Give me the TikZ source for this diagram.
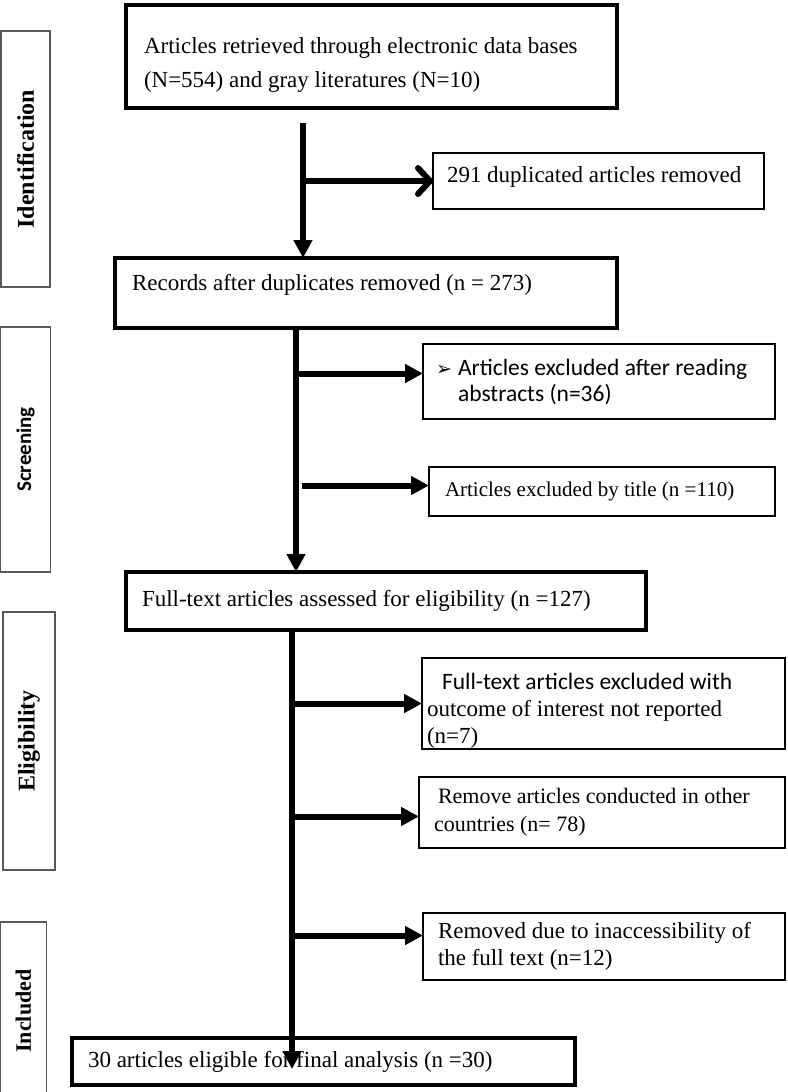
\documentclass[tikz,border=0pt]{standalone}
\usepackage{fontspec}
\setmainfont{Liberation Serif}
\newfontfamily\calib{Carlito}
\newfontfamily\dingfont{DejaVu Sans}
\usetikzlibrary{arrows.meta}

% text block of a box: width, height, left pad, text
\newcommand{\boxtext}[4]{\parbox[c][#2][c]{#1}{\raggedright\leftskip=#3\relax #4}}

\tikzset{
  mainbox/.style={draw, line width=3.5pt, inner sep=0pt, outer sep=0pt, anchor=north west, font=\fontsize{23}{28}\selectfont},
  sidebox/.style={mainbox, line width=1.8pt},
  stage/.style={draw=black!65, line width=1.2pt, inner sep=0pt, outer sep=0pt, rotate=90, font=\fontsize{24}{24}\selectfont\bfseries},
  flow/.style={line width=6pt, -{Triangle[length=18pt,width=18pt]}},
  openflow/.style={line width=6pt, line cap=round, -{Straight Barb[length=12pt,width=26pt,round]}},
}

\begin{document}
\begin{tikzpicture}[x=1pt,y=-1pt]
\useasboundingbox (0,0) rectangle (787,1092);

% stages on the left
\node[stage, minimum width=256pt, minimum height=49pt] (sident) at (25.5,159) {Identification};
\node[stage, minimum width=245pt, minimum height=50pt, font=\calib\fontsize{21}{21}\selectfont\bfseries] (sscreen) at (25.5,449.5) {Screening};
\node[stage, minimum width=258pt, minimum height=52pt] (selig) at (29,741) {Eligibility};
\node[stage, minimum width=178pt, minimum height=46pt, font=\fontsize{22}{22}\selectfont\bfseries] (sincl) at (23.5,1011) {Included};

% main column
\node[mainbox, font=\fontsize{23}{34}\selectfont] (retr) at (126,5) {\boxtext{491pt}{103pt}{18pt}{\vspace*{18pt}Articles retrieved through electronic data bases\\(N=554) and gray literatures (N=10)}};
\node[mainbox] (recs) at (115,258) {\boxtext{502pt}{70pt}{17pt}{Records after duplicates removed (n = 273)\par\vspace{16pt}}};
\node[mainbox] (full) at (126,572) {\boxtext{520pt}{58pt}{16pt}{Full-text articles assessed for eligibility (n =127)}};
\node[mainbox] (final) at (72,1038) {\boxtext{503pt}{47pt}{16pt}{30 articles eligible for final analysis (n =30)}};

% excluded records
\node[sidebox] (dup) at (433,153) {\boxtext{331pt}{56pt}{14pt}{291 duplicated articles removed\par\vspace{8pt}}};
\node[sidebox, font=\calib\fontsize{23.5}{26}\selectfont] (excl1) at (423,344) {\boxtext{352pt}{75pt}{35pt}{\leavevmode\llap{\makebox[22pt][l]{\dingfont\fontsize{19}{19}\selectfont ➢}}Articles excluded after reading\\abstracts (n=36)}};
\node[sidebox, font=\fontsize{21}{26}\selectfont] (title) at (429,467) {\boxtext{346pt}{49pt}{16pt}{Articles excluded by title (n =110)}};
\node[sidebox, font=\fontsize{23}{27}\selectfont] (excl3) at (422,658) {\boxtext{363pt}{91pt}{5pt}{\vspace*{15pt}\hspace*{15pt}{\calib\fontsize{23.5}{27}\selectfont Full-text articles excluded with}\\outcome of interest not reported\\(n=7)}};
\node[sidebox, font=\fontsize{22}{28}\selectfont] (excl4) at (419,777) {\boxtext{366pt}{71pt}{15pt}{\hspace*{4pt}Remove articles conducted in other\\countries (n= 78)}};
\node[sidebox, font=\fontsize{23}{27}\selectfont] (excl5) at (423,913) {\boxtext{362pt}{67pt}{15pt}{Removed due to inaccessibility of\\the full text (n=12)}};

% trunks
\coordinate (ta) at (303,123);
\coordinate (tb) at (296,0);
\coordinate (tb2) at (302,0);
\coordinate (tc) at (292,0);

\draw[flow] (ta) -- (ta |- recs.north);
\draw[openflow] (ta |- dup.west) -- (dup.west);

\draw[flow] (tb |- recs.south) -- (tb |- full.north);
\draw[flow] ([yshift=8pt]excl1.west -| tb) -- ([yshift=8pt]excl1.west);
\draw[flow] ([yshift=6pt]title.west -| tb2) -- ([yshift=6pt]title.west);

\draw[flow] (tc |- full.south) -- ([yshift=-31pt]final.north -| tc);
\draw[flow] (tc |- excl3.west) -- (excl3.west);
\draw[flow] ([yshift=-4pt]excl4.west -| tc) -- ([yshift=-4pt]excl4.west);
\draw[flow] ([yshift=11pt]excl5.west -| tc) -- ([yshift=11pt]excl5.west);
\end{tikzpicture}
\end{document}
